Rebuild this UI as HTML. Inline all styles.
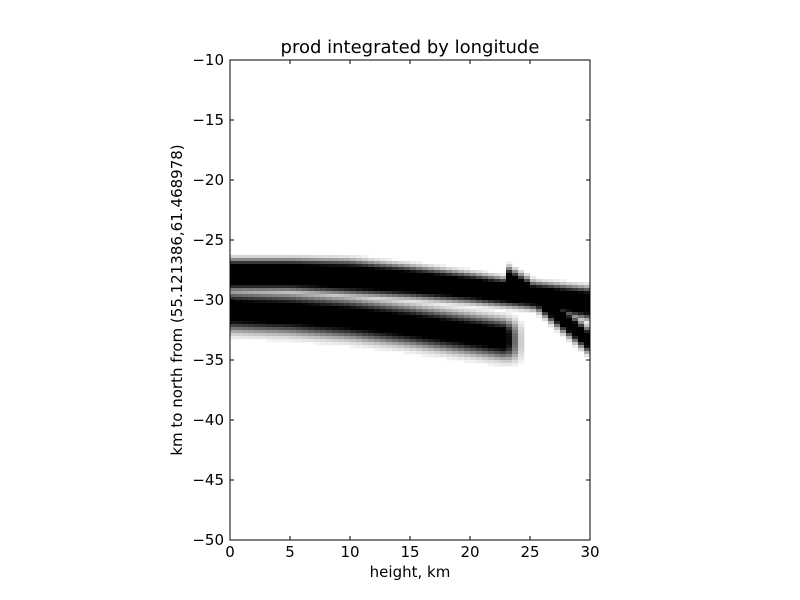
<!DOCTYPE html>
<html><head><meta charset="utf-8"><style>
body{margin:0;background:#fff;}
svg{display:block;font-family:"DejaVu Sans","Liberation Sans",sans-serif;}
</style></head><body>
<svg id="chart" width="800" height="600" viewBox="0 0 800 600">
<rect width="800" height="600" fill="#fff"/>
<g id="cells"></g>
<rect x="230" y="60" width="360" height="480" fill="none" stroke="#000" stroke-width="1"/>
<g id="axes"></g>
<text x="410" y="53" font-size="18" text-anchor="middle">prod integrated by longitude</text>
<text x="410" y="577" font-size="15" text-anchor="middle">height, km</text>
<text transform="translate(182,300) rotate(-90)" font-size="15" text-anchor="middle">km to north from (55.121386,61.468978)</text>
</svg>
<script>
const xTicks=[0,5,10,15,20,25,30];
const yTicks=[-10,-15,-20,-25,-30,-35,-40,-45,-50];
const bandX=[0,5,10,15,20,25,30];
const upperCenter=[-27.9,-27.9,-28.1,-28.5,-29.0,-29.6,-30.3];
const upperTop=[-26.6,-26.6,-26.7,-27.2,-27.8,-28.5,-29.0];
const lowerCenter=[-30.9,-31.1,-31.5,-32.1,-32.8,-33.5,-34.2];
const lowerEnd=23.0;
const thirdX=[23,25,27,30];
const thirdCenter=[-28.2,-29.3,-31.0,-33.5];
const NS='http://www.w3.org/2000/svg';
const sx=v=>230+(v-0)*12, sy=v=>60+(-10-v)*12;
const ax=document.getElementById('axes');
function el(t,a,p){const e=document.createElementNS(NS,t);for(const k in a)e.setAttribute(k,a[k]);p.appendChild(e);return e;}
xTicks.forEach(v=>{
 const t=el('line',{x1:sx(v),x2:sx(v),y1:540,y2:536,stroke:'#000'},ax);
 
 
 const t2=el('line',{x1:sx(v),x2:sx(v),y1:60,y2:64,stroke:'#000'},ax);
 
 
 const l=el('text',{x:sx(v),y:557,'font-size':15,'text-anchor':'middle'},ax);l.textContent=v;
 
 
});
yTicks.forEach(v=>{
 const t=el('line',{x1:230,x2:234,y1:sy(v),y2:sy(v),stroke:'#000'},ax);
 
 
 const t2=el('line',{x1:586,x2:590,y1:sy(v),y2:sy(v),stroke:'#000'},ax);
 
 
 const l=el('text',{x:224,y:sy(v)+5,'font-size':15,'text-anchor':'end'},ax);l.textContent=(v<0?'\u2212'+(-v):v);
 
 
});
function interp(xs,ys,x){if(x<=xs[0])return ys[0];for(let i=1;i<xs.length;i++){if(x<=xs[i]){const f=(x-xs[i-1])/(xs[i]-xs[i-1]);return ys[i-1]+f*(ys[i]-ys[i-1]);}}return ys[ys.length-1];}
const g=document.getElementById('cells');
for(let x=0;x<30;x+=0.5){
 const xc=x+0.25;
 const uc=interp(bandX,upperCenter,xc), ut=interp(bandX,upperTop,xc);
 const uw=Math.max(0.8,ut-uc);
 const lc=interp(bandX,lowerCenter,xc);
 for(let y=-26;y>-35.5;y-=0.25){
  const yc=y-0.125;
  let d=0;
  const du=Math.abs(yc-uc)/uw;
  d=Math.max(d,Math.exp(-Math.pow(du,4)));
  if(xc<lowerEnd+1.5){
   const fade=xc>lowerEnd?Math.max(0,1-(xc-lowerEnd)/1.5):1;
   const dl=(yc-lc)/(yc>lc?1.5:1.6);
   d=Math.max(d,fade*Math.exp(-Math.pow(Math.abs(dl),3)));
  }
  if(xc>=thirdX[0]){
   const tc=interp(thirdX,thirdCenter,xc);
   d=Math.max(d,Math.exp(-Math.pow(Math.abs(yc-tc)/1.0,3)));
  }
  if(d<0.04)continue;
  const c=Math.round(255*(1-Math.min(1,d*1.15)));
  const r=el('rect',{x:sx(x),y:sy(y),width:6.3,height:3.3,fill:`rgb(${c},${c},${c})`},g);
  
  
 }
}
</script>
</body></html>
